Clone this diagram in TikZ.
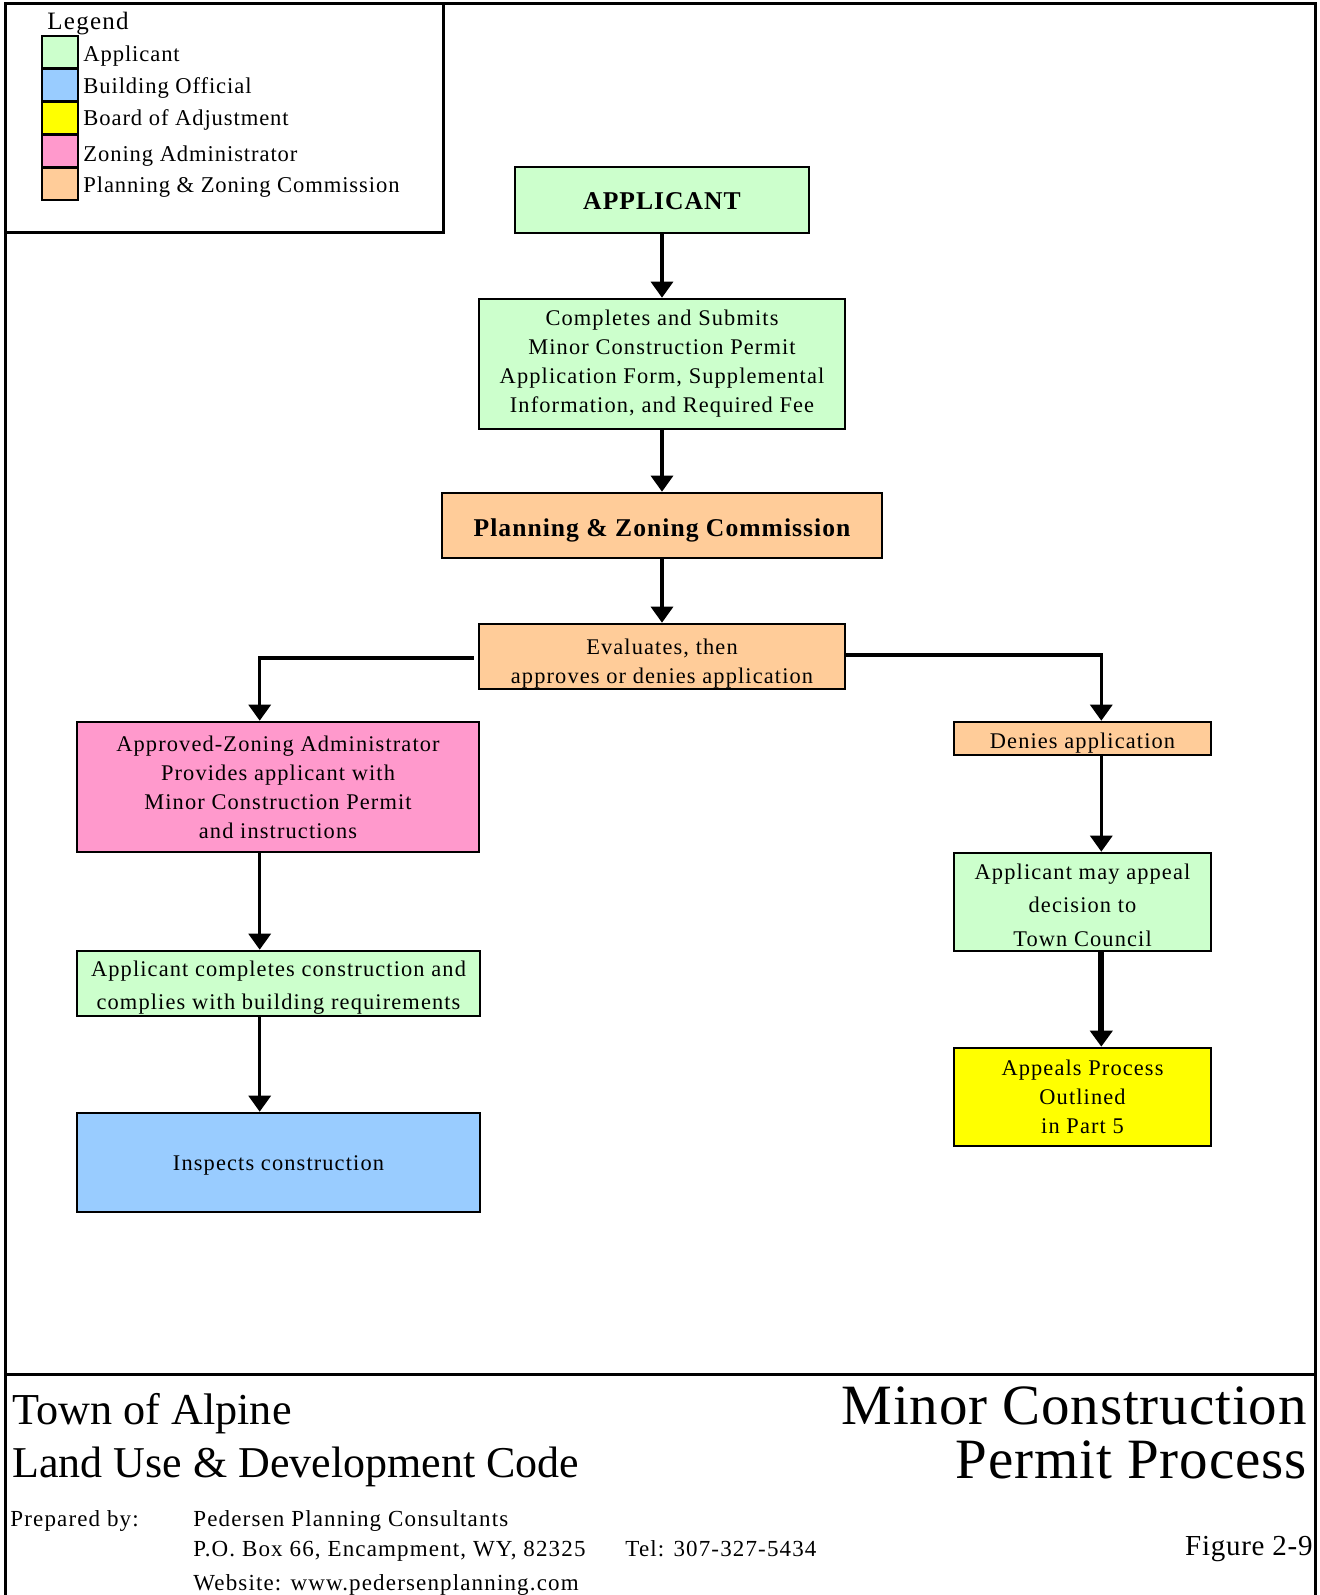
\documentclass[tikz,border=0pt]{standalone}
\usepackage{fontspec}
\setmainfont{Liberation Serif}
\newfontfamily\legendfont{Liberation Serif}[LetterSpace=4]
\newfontfamily\boxfont{Liberation Serif}[LetterSpace=5]
\newfontfamily\footfont{Liberation Serif}[LetterSpace=5]
\newfontfamily\boldfont{Liberation Serif}[LetterSpace=4]
\newfontfamily\headfont{Liberation Serif}[LetterSpace=1.5]
\newfontfamily\figfont{Liberation Serif}[LetterSpace=2.5]
\usetikzlibrary{arrows.meta,calc}

\definecolor{applicantgreen}{HTML}{CCFFCC}
\definecolor{officialblue}{HTML}{99CCFF}
\definecolor{boardyellow}{HTML}{FFFF00}
\definecolor{zoningpink}{HTML}{FF99CC}
\definecolor{commissiontan}{HTML}{FFCC99}

\tikzset{
  frameline/.style={line width=1.5pt, line cap=rect},
  swatch/.style={draw, line width=1.4pt, minimum width=18pt, minimum height=16.4pt, inner sep=0pt},
  legendtext/.style={anchor=base west, inner sep=0pt, font=\legendfont\fontsize{11.3}{13}\selectfont},
  flowbox/.style={draw, line width=1.3pt, inner sep=0pt, align=center,
                  font=\boxfont\fontsize{11.2}{14.5}\selectfont},
  boxtext/.style={inner sep=0pt, align=center, font=\boxfont\fontsize{11.2}{14.5}\selectfont},
  boldtext/.style={inner sep=0pt, font=\boldfont\bfseries\fontsize{12.8}{15}\selectfont},
  conn/.style={line width=1.6pt, -{Triangle[width=11pt,length=8pt]}},
  titletext/.style={anchor=base west, inner sep=0pt, font=\fontsize{22.1}{26}\selectfont},
  bigtitle/.style={anchor=base east, inner sep=0pt, font=\headfont\fontsize{28.5}{32}\selectfont},
  smalltext/.style={anchor=base west, inner sep=0pt, font=\footfont\fontsize{11.5}{14}\selectfont}
}

\begin{document}
\begin{tikzpicture}[x=0.5pt,y=-0.5pt]
\useasboundingbox (0,0) rectangle (1320,1595);
\fill[white] (0,0) rectangle (1320,1595);

% page frame, legend frame and title-block rule
\draw[frameline] (5,1595) -- (5,4) -- (1315,4) -- (1315,1595);
\draw[frameline] (5,232) -| (443,4);
\draw[frameline] (5,1374) -- (1315,1374);

% legend
\node[anchor=base west, inner sep=0pt, font=\footfont\fontsize{12.5}{15}\selectfont] (legendtitle) at (47,30) {Legend};
\node[swatch, fill=applicantgreen] (swapp) at (60,52.4) {};
\node[swatch, fill=officialblue]   (swoff) at (60,85.2) {};
\node[swatch, fill=boardyellow]    (swboa) at (60,118) {};
\node[swatch, fill=zoningpink]     (swzon) at (60,150.8) {};
\node[swatch, fill=commissiontan]  (swpz)  at (60,183.6) {};
\node[legendtext] (lgapp) at (83,62)  {Applicant};
\node[legendtext] (lgoff) at (83,94)  {Building Official};
\node[legendtext] (lgboa) at (83,126) {Board of Adjustment};
\node[legendtext] (lgzon) at (83,162) {Zoning Administrator};
\node[legendtext] (lgpz)  at (83,192) {Planning \& Zoning Commission};

% flow boxes (texts that sit off-centre get their own node)
\node[flowbox, fill=applicantgreen, minimum width=147pt, minimum height=33pt] (app) at (662,200) {};
\node[boldtext] (apptext) at (662,201.5) {APPLICANT};
\node[flowbox, fill=applicantgreen, minimum width=183pt, minimum height=65pt] (submit) at (662,364)
  {Completes and Submits\\Minor Construction Permit\\Application Form, Supplemental\\Information, and Required Fee};
\node[flowbox, fill=commissiontan, minimum width=220pt, minimum height=32.5pt] (pz) at (662,525.5) {};
\node[boldtext] (pztext) at (662,530) {Planning \& Zoning Commission};
\node[flowbox, fill=commissiontan, minimum width=183pt, minimum height=32.5pt] (eval) at (662,656.5) {};
\node[boxtext] (evaltext) at (662,664) {Evaluates, then\\approves or denies application};

\node[flowbox, fill=zoningpink, minimum width=201pt, minimum height=65pt] (ok) at (278,787)
  {Approved-Zoning Administrator\\Provides applicant with\\Minor Construction Permit\\and instructions};
\node[flowbox, fill=applicantgreen, minimum width=201.5pt, minimum height=32.5pt] (build) at (278.5,983.5) {};
\node[boxtext, font=\boxfont\fontsize{11.2}{16.5}\selectfont] (buildtext) at (278.5,988)
  {Applicant completes construction and\\complies with building requirements};
\node[flowbox, fill=officialblue, minimum width=201.5pt, minimum height=49.5pt] (inspect) at (278.5,1162.5) {};
\node[boxtext] (inspecttext) at (278.5,1165) {Inspects construction};

\node[flowbox, fill=commissiontan, minimum width=128.5pt, minimum height=16.5pt] (deny) at (1082.5,738.5) {};
\node[boxtext] (denytext) at (1082.5,743) {Denies application};
\node[flowbox, fill=applicantgreen, minimum width=128.5pt, minimum height=49pt] (appeal) at (1082.5,902) {};
\node[boxtext, font=\boxfont\fontsize{11.2}{16.75}\selectfont] (appealtext) at (1082.5,905)
  {Applicant may appeal\\decision to\\Town Council};
\node[flowbox, fill=boardyellow, minimum width=128.5pt, minimum height=49pt] (part5) at (1082.5,1097)
  {Appeals Process\\Outlined\\in Part 5};

% entry points of the side branches
\coordinate (okin) at ($(ok.north west)+(184,0)$);
\coordinate (denyin) at ($(deny.north east)+(-111,0)$);

% connectors
\draw[conn] (app) -- (submit);
\draw[conn] (submit) -- (pz);
\draw[conn] (pz) -- (eval);
\draw[conn] ([xshift=-2pt,yshift=-0.75pt]eval.west) -| (okin);
\draw[conn] ([yshift=0.75pt]eval.east) -| (denyin);
\draw[conn] (deny.south -| denyin) -- (appeal.north -| denyin);
\draw[conn, line width=3pt] (appeal.south -| denyin) -- (part5.north -| denyin);
\draw[conn] (ok.south -| okin) -- (build.north -| okin);
\draw[conn] (build.south -| okin) -- (inspect.north -| okin);

% title block
\node[titletext] (town) at (12,1424) {Town of Alpine};
\node[titletext, font=\fontsize{22}{26}\selectfont] (code) at (12,1477) {Land Use \& Development Code};
\node[bigtitle] (title1) at (1307,1424) {Minor Construction};
\node[bigtitle] (title2) at (1307,1478) {Permit Process};
\node[smalltext] (prep) at (10,1526) {Prepared by:};
\node[smalltext] (firm) at (193,1526) {Pedersen Planning Consultants};
\node[smalltext] (addr) at (193,1556) {P.O. Box 66, Encampment, WY, 82325};
\node[smalltext] (tel)  at (625,1556) {Tel: 307-327-5434};
\node[smalltext] (web)  at (193,1590) {Website: www.pedersenplanning.com};
\node[anchor=base east, inner sep=0pt, font=\figfont\fontsize{14.5}{17}\selectfont] (fig) at (1313,1555) {Figure 2-9};
\end{tikzpicture}
\end{document}
